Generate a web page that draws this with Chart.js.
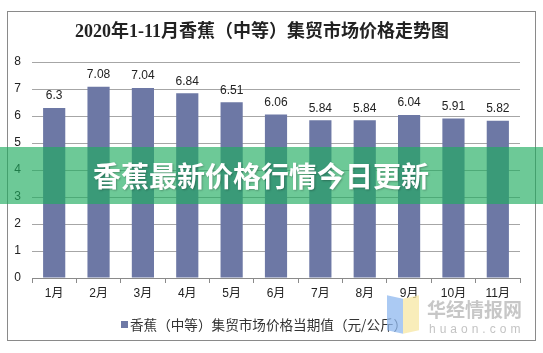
<!DOCTYPE html>
<html>
<head>
<meta charset="utf-8">
<script src="https://cdn.jsdelivr.net/npm/chart.js@4"></script>
<style>
  html, body { margin: 0; padding: 0; background: #fff; }
  #wrap { position: relative; width: 543px; height: 353px; overflow: hidden; }
  #chart { position: absolute; left: 0; top: 0; }
  .banner {
    position: absolute; left: 0; top: 147px; width: 543px; height: 57px;
    background: rgba(30, 172, 95, 0.65);
  }
  .banner span {
    position: absolute; left: 0; width: 522px; top: 12px; text-align: center;
    font: bold 28px "Noto Sans CJK SC", sans-serif; color: #fff;
    text-shadow: 1px 1px 2px rgba(0,0,0,0.25); line-height: 32px;
  }
  .logo-b, .logo-y { position: absolute; top: 297px; width: 16px; height: 35px; opacity: 0.75; }
  .logo-b { left: 387px; background: #8fb8ef; transform: skewY(12deg); }
  .logo-y { left: 403px; background: #f7e7a3; transform: skewY(-12deg); }
  .wm1 { position: absolute; left: 427px; top: 295px; font: bold 19px "Noto Sans CJK SC", sans-serif; color: rgba(175,175,175,0.7); }
  .wm2 { position: absolute; left: 429px; top: 322px; font: 12px "Liberation Sans", sans-serif; color: rgba(180,180,180,0.8); letter-spacing: 4px; }
</style>
</head>
<body>
<div id="wrap">
  <canvas id="chart" width="543" height="353"></canvas>
  <div class="logo-b"></div><div class="logo-y"></div>
  <div class="wm1">华经情报网</div>
  <div class="wm2">huaon.com</div>
  <div class="banner"><span>香蕉最新价格行情今日更新</span></div>
</div>
<script>
// ---- data ----
const months = ["1月", "2月", "3月", "4月", "5月", "6月", "7月", "8月", "9月", "10月", "11月"];
const prices = [6.3, 7.08, 7.04, 6.84, 6.51, 6.06, 5.84, 5.84, 6.04, 5.91, 5.82];
const yTicks = [0, 1, 2, 3, 4, 5, 6, 7, 8];
const titleText = "2020年1-11月香蕉（中等）集贸市场价格走势图";
const seriesName = "香蕉（中等）集贸市场价格当期值（元/公斤）";

const BAR = "#6d78a5";
const SANS = '"Liberation Sans", Arial, "Noto Sans CJK SC", sans-serif';

// frame, title, legend, value labels
const decor = {
  id: "decor",
  beforeDraw(chart) {
    const { ctx } = chart;
    ctx.save();
    ctx.fillStyle = "#fff";
    ctx.fillRect(0, 0, chart.width, chart.height);
    ctx.strokeStyle = "#8a8a8a";
    ctx.lineWidth = 1;
    ctx.strokeRect(7.5, 11.5, 528, 329);
    ctx.restore();
  },
  afterDatasetsDraw(chart) {
    const { ctx } = chart;
    const meta = chart.getDatasetMeta(0);
    ctx.save();
    ctx.font = "12px " + SANS;
    ctx.fillStyle = "#222";
    ctx.textAlign = "center";
    ctx.textBaseline = "bottom";
    meta.data.forEach((bar, i) => {
      ctx.fillText(String(prices[i]), bar.x, bar.y - 6);
    });
    ctx.restore();
  },
  afterDraw(chart) {
    const { ctx } = chart;
    ctx.save();
    // title
    ctx.font = 'bold 18px "Liberation Serif", "DejaVu Serif", "Noto Sans CJK SC", serif';
    ctx.fillStyle = "#222";
    ctx.textAlign = "center";
    ctx.textBaseline = "middle";
    ctx.fillText(titleText, 262, 32);
    // legend
    ctx.fillStyle = BAR;
    ctx.fillRect(121, 321, 7, 7);
    ctx.font = '13.6px "Noto Sans CJK SC", sans-serif';
    ctx.fillStyle = "#333";
    ctx.textAlign = "left";
    ctx.fillText(seriesName, 130, 325);
    ctx.restore();
  },
};

new Chart(document.getElementById("chart"), {
  type: "bar",
  data: {
    labels: months,
    datasets: [{
      label: seriesName,
      data: prices,
      backgroundColor: BAR,
      borderWidth: 0,
      categoryPercentage: 1.0,
      barPercentage: 0.5,
    }],
  },
  options: {
    responsive: false,
    animation: false,
    devicePixelRatio: 1,
    layout: { padding: { left: 0, right: 23, top: 62, bottom: 25 } },
    plugins: { legend: { display: false }, title: { display: false }, tooltip: { enabled: false } },
    scales: {
      x: {
        grid: { drawOnChartArea: false, drawTicks: true, tickLength: 5, color: "#8a8a8a" },
        border: { display: true, color: "#8a8a8a" },
        ticks: { font: { size: 12, family: SANS }, color: "#222", padding: 3, maxRotation: 0 },
        afterFit(scale) { scale.height = 50; },
      },
      y: {
        min: 0,
        max: 8,
        afterBuildTicks(scale) { scale.ticks = yTicks.map((v) => ({ value: v })); },
        grid: { color: "#a6a6a6", drawTicks: false },
        border: { display: false },
        ticks: { font: { size: 12, family: SANS }, color: "#222", padding: 11 },
        afterFit(scale) { scale.width = 32; },
      },
    },
  },
  plugins: [decor],
});
</script>
</body>
</html>
